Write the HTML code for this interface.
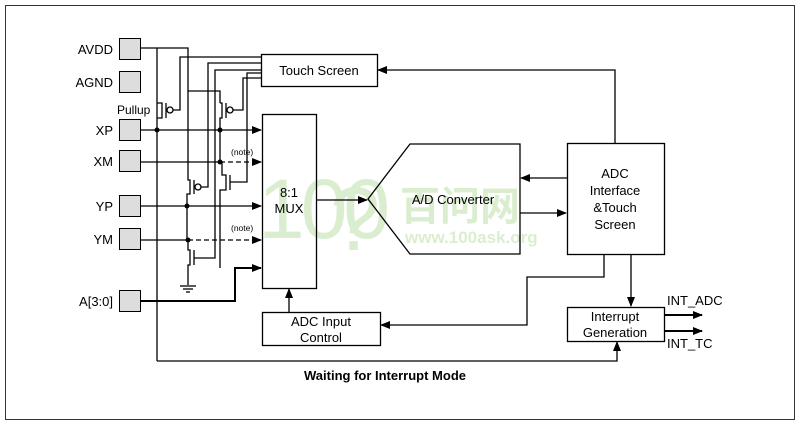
<!DOCTYPE html>
<html><head><meta charset="utf-8"><style>
html,body{margin:0;padding:0;background:#fff}
svg{display:block;font-family:"Liberation Sans",Arial,sans-serif}
</style></head><body>
<svg width="800" height="426" viewBox="0 0 800 426" xmlns="http://www.w3.org/2000/svg">
<defs>
<marker id="a" markerWidth="10" markerHeight="8" refX="9" refY="4" orient="auto" markerUnits="userSpaceOnUse"><path d="M0,0 L10,4 L0,8z" fill="#000"/></marker>
</defs>
<rect x="5.5" y="5.5" width="789" height="414" fill="#fff" stroke="#333" stroke-width="1"/>
<!-- watermark -->
<g fill="#a8d488" opacity="0.4">
<text x="258" y="238" font-size="84" font-family="Liberation Sans,sans-serif" letter-spacing="-4">100</text>
<text x="330" y="250" font-size="90">?</text>
<text x="400" y="220" font-size="40" font-family="Liberation Sans,'Noto Sans CJK SC',sans-serif" font-weight="bold">百问网</text>
<text x="405" y="243" font-size="17" font-weight="bold">www.100ask.org</text>
</g>
<!-- pads -->
<g fill="#ddd" stroke="#000" stroke-width="1">
<rect x="119.5" y="38.5" width="21" height="21"/>
<rect x="119.5" y="71.5" width="21" height="21"/>
<rect x="119.5" y="119.5" width="21" height="21"/>
<rect x="119.5" y="150.5" width="21" height="21"/>
<rect x="119.5" y="195.5" width="21" height="21"/>
<rect x="119.5" y="228.5" width="21" height="21"/>
<rect x="119.5" y="290.5" width="21" height="21"/>
</g>
<g font-size="13" text-anchor="end">
<text x="113" y="54">AVDD</text>
<text x="113" y="87">AGND</text>
<text x="113" y="135">XP</text>
<text x="113" y="166">XM</text>
<text x="113" y="211">YP</text>
<text x="113" y="244">YM</text>
<text x="113" y="306">A[3:0]</text>
</g>
<text x="117" y="114" font-size="12">Pullup</text>
<g fill="none" stroke="#000" stroke-width="1.3">
<rect x="261.5" y="54.5" width="116" height="32"/>
<rect x="262.5" y="114.5" width="54" height="174"/>
<polygon points="368,199 410,144 520,144 520,254 410,254"/>
<rect x="567.5" y="143.5" width="97" height="111"/>
<rect x="567.5" y="307.5" width="97" height="34"/>
<rect x="262.5" y="312.5" width="118" height="33"/>
<polyline points="141,48 188,48 188,91 220,91 220,103"/>
<line x1="157" y1="48" x2="157" y2="361"/>
<polyline points="157,103 162,103 162,118 157,118"/>
<line x1="166" y1="103" x2="166" y2="118"/>
<circle cx="170" cy="110" r="3"/>
<polyline points="173,110 180,110 180,57 261,57"/>
<polyline points="220,103 222,103 222,118 220,118 220,162"/>
<line x1="226" y1="103" x2="226" y2="118"/>
<circle cx="230" cy="110" r="3"/>
<polyline points="233,110 243,110 243,78 261,78"/>
<polyline points="188,91 188,180 190,180 190,194 187,194 187,240"/>
<line x1="194" y1="180" x2="194" y2="194"/>
<circle cx="198" cy="187" r="3"/>
<polyline points="201,187 208,187 208,63 261,63"/>
<polyline points="220,162 222,162 222,175 226,175 226,190 220,190 220,260"/>
<line x1="230" y1="175" x2="230" y2="190"/>
<polyline points="230,182 247,182 247,73 261,73"/>
<polyline points="188,240 188,250 190,250 190,265 188,265 188,285"/>
<line x1="194" y1="250" x2="194" y2="265"/>
<polyline points="194,258 215,258 215,70 261,70"/>
<polyline points="220,260 220,268"/>
<line x1="180" y1="286" x2="196" y2="286"/>
<line x1="183" y1="289" x2="193" y2="289"/>
<line x1="186" y1="292" x2="190" y2="292"/>
<line x1="141" y1="130" x2="261" y2="130" marker-end="url(#a)"/>
<line x1="141" y1="162" x2="220" y2="162"/>
<line x1="220" y1="162" x2="261" y2="162" stroke-dasharray="5,3" marker-end="url(#a)"/>
<line x1="141" y1="206" x2="261" y2="206" marker-end="url(#a)"/>
<line x1="141" y1="240" x2="188" y2="240"/>
<line x1="188" y1="240" x2="261" y2="240" stroke-dasharray="5,3" marker-end="url(#a)"/>
<polyline points="141,301 235,301 235,268 261,268" stroke-width="2" marker-end="url(#a)"/>
<line x1="316" y1="200" x2="367" y2="200" marker-end="url(#a)"/>
<line x1="567" y1="178" x2="521" y2="178" marker-end="url(#a)"/>
<line x1="520" y1="213" x2="566" y2="213" marker-end="url(#a)"/>
<polyline points="615,143 615,70 378,70" marker-end="url(#a)"/>
<line x1="289" y1="312" x2="289" y2="289" marker-end="url(#a)"/>
<polyline points="604,254 604,277 527,277 527,325 381,325" marker-end="url(#a)"/>
<line x1="631" y1="254" x2="631" y2="306" marker-end="url(#a)"/>
<line x1="664" y1="315" x2="702" y2="315" marker-end="url(#a)" stroke-width="2"/>
<line x1="664" y1="331" x2="702" y2="331" marker-end="url(#a)" stroke-width="2"/>
<polyline points="157,361 617,361 617,342" marker-end="url(#a)"/>
</g>
<g fill="#000">
<circle cx="157" cy="130" r="2.5"/><circle cx="220" cy="130" r="2.5"/>
<circle cx="220" cy="162" r="2.5"/><circle cx="187" cy="206" r="2.5"/>
<circle cx="188" cy="240" r="2.5"/>
</g>
<g font-size="8.5"><text x="231" y="155">(note)</text><text x="231" y="231">(note)</text></g>
<g font-size="13" text-anchor="middle">
<text x="319" y="75">Touch Screen</text>
<text x="289" y="197">8:1</text><text x="289" y="213">MUX</text>
<text x="453" y="204">A/D Converter</text>
<text x="615" y="178">ADC</text><text x="615" y="195">Interface</text>
<text x="615" y="212">&amp;Touch</text><text x="615" y="229">Screen</text>
<text x="615" y="321">Interrupt</text><text x="615" y="337">Generation</text>
<text x="321" y="326">ADC Input</text><text x="321" y="342">Control</text>
<text x="385" y="380" font-weight="bold">Waiting for Interrupt Mode</text>
</g>
<g font-size="13"><text x="667" y="305">INT_ADC</text><text x="667" y="348">INT_TC</text></g>
</svg>
</body></html>
